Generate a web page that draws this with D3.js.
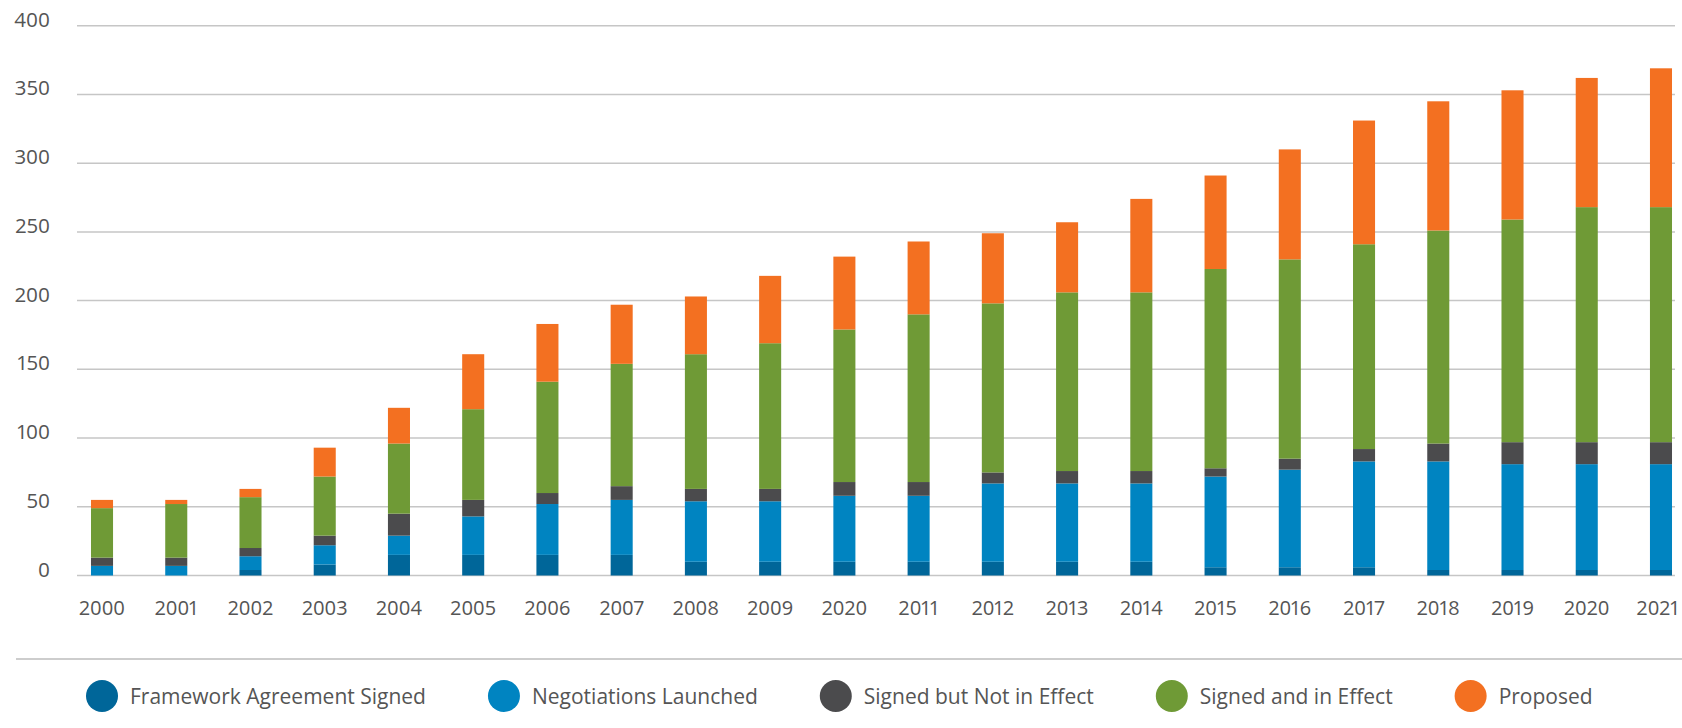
<!DOCTYPE html>
<html>
<head>
<meta charset="utf-8">
<script src="https://cdn.jsdelivr.net/npm/d3@7"></script>
<style>
  body { margin: 0; background: #fff; }
  text { font-family: "Open Sans", sans-serif; fill: #555; font-variant-numeric: proportional-nums; font-feature-settings: "pnum"; }
</style>
</head>
<body>
<div id="chart"></div>
<script>
const width = 1682;
const height = 728;

// year labels as printed (the 2010 bar is labelled "2020" in the source)
const years = ['2000', '2001', '2002', '2003', '2004', '2005', '2006', '2007', '2008', '2009', '2020',
  '2011', '2012', '2013', '2014', '2015', '2016', '2017', '2018', '2019', '2020', '2021'];

const seriesNames = ['Framework Agreement Signed', 'Negotiations Launched', 'Signed but Not in Effect',
  'Signed and in Effect', 'Proposed'];
const colors = ['#006699', '#0084c1', '#4b4b4d', '#6f9a36', '#f37021'];

const frameworkSigned = [0, 0, 4, 8, 15, 15, 15, 15, 10, 10, 10, 10, 10, 10, 10, 6, 6, 6, 4, 4, 4, 4];
const negotiations    = [7, 7, 10, 14, 14, 28, 37, 40, 44, 44, 48, 48, 57, 57, 57, 66, 71, 77, 79, 77, 77, 77];
const signedNotEffect = [6, 6, 6, 7, 16, 12, 8, 10, 9, 9, 10, 10, 8, 9, 9, 6, 8, 9, 13, 16, 16, 16];
const signedInEffect  = [36, 39, 37, 43, 51, 66, 81, 89, 98, 106, 111, 122, 123, 130, 130, 145, 145, 149, 155, 162, 171, 171];
const proposed        = [6, 3, 6, 21, 26, 40, 42, 43, 42, 49, 53, 53, 51, 51, 68, 68, 80, 90, 94, 94, 94, 101];

const yTicks = [0, 50, 100, 150, 200, 250, 300, 350, 400];

const series = [frameworkSigned, negotiations, signedNotEffect, signedInEffect, proposed];
const rows = years.map((y, i) => {
  const r = { idx: i };
  series.forEach((s, k) => { r['s' + k] = s[i]; });
  return r;
});
const keys = series.map((s, k) => 's' + k);

const svg = d3.select('#chart')
  .append('svg')
  .attr('width', width)
  .attr('height', height);

const x = d3.scaleBand()
  .domain(d3.range(years.length))
  .range([64.9, 1698.1])
  .paddingInner(0.703)
  .paddingOuter(0.3515);

const y = d3.scaleLinear()
  .domain([0, 400])
  .range([575.5, 25.7]);

// gridlines
svg.append('g')
  .selectAll('line')
  .data(yTicks)
  .enter()
  .append('line')
  .attr('x1', 77)
  .attr('x2', 1675)
  .attr('y1', d => y(d))
  .attr('y2', d => y(d))
  .style('stroke', '#c6c6c6')
  .style('stroke-width', '1.5px');

// y labels
svg.append('g')
  .selectAll('text')
  .data(yTicks)
  .enter()
  .append('text')
  .attr('x', 50)
  .attr('y', d => y(d) + 1)
  .attr('text-anchor', 'end')
  .style('font-size', '20.5px')
  .text(d => d);

const stack = d3.stack().keys(keys);
const layers = stack(rows);

svg.append('g')
  .selectAll('g')
  .data(layers)
  .enter()
  .append('g')
  .style('fill', (d, i) => colors[i])
  .selectAll('rect')
  .data(d => d)
  .enter()
  .append('rect')
  .attr('x', d => x(d.data.idx))
  .attr('width', x.bandwidth())
  .attr('y', d => y(d[1]))
  .attr('height', d => y(d[0]) - y(d[1]));

// x labels
const xAxis = d3.axisBottom(x)
  .tickSize(0)
  .tickFormat(i => years[i]);

const xg = svg.append('g')
  .attr('transform', `translate(0, ${y(0)})`)
  .call(xAxis);
xg.select('.domain').remove();
xg.selectAll('text')
  .attr('dy', null)
  .attr('y', 39)
  .style('font-size', '20px')
  .style('font-family', '"Open Sans", sans-serif')
  .style('fill', '#555');

// keep the last year label inside the page
xg.selectAll('text').each(function () {
  const b = this.getBBox();
  const tick = this.parentNode.getAttribute('transform');
  const tx = +tick.match(/translate\(([-\d.]+)/)[1];
  const over = tx + b.x + b.width - (width - 3);
  if (over > 0) d3.select(this).attr('x', -over);
});

// separator
svg.append('line')
  .attr('x1', 16)
  .attr('x2', 1682)
  .attr('y1', 659)
  .attr('y2', 659)
  .style('stroke', '#bdbdbd')
  .style('stroke-width', '1.5px');

// legend, laid out left to right
const legend = svg.append('g');
let lx = 102;
seriesNames.forEach((name, i) => {
  legend.append('circle')
    .attr('cx', lx)
    .attr('cy', 696)
    .attr('r', 16)
    .style('fill', colors[i]);
  const t = legend.append('text')
    .attr('x', lx + 28)
    .attr('y', 704)
    .style('font-size', '21px')
    .text(name);
  lx = lx + 28 + t.node().getComputedTextLength() + 78;
});
</script>
</body>
</html>
